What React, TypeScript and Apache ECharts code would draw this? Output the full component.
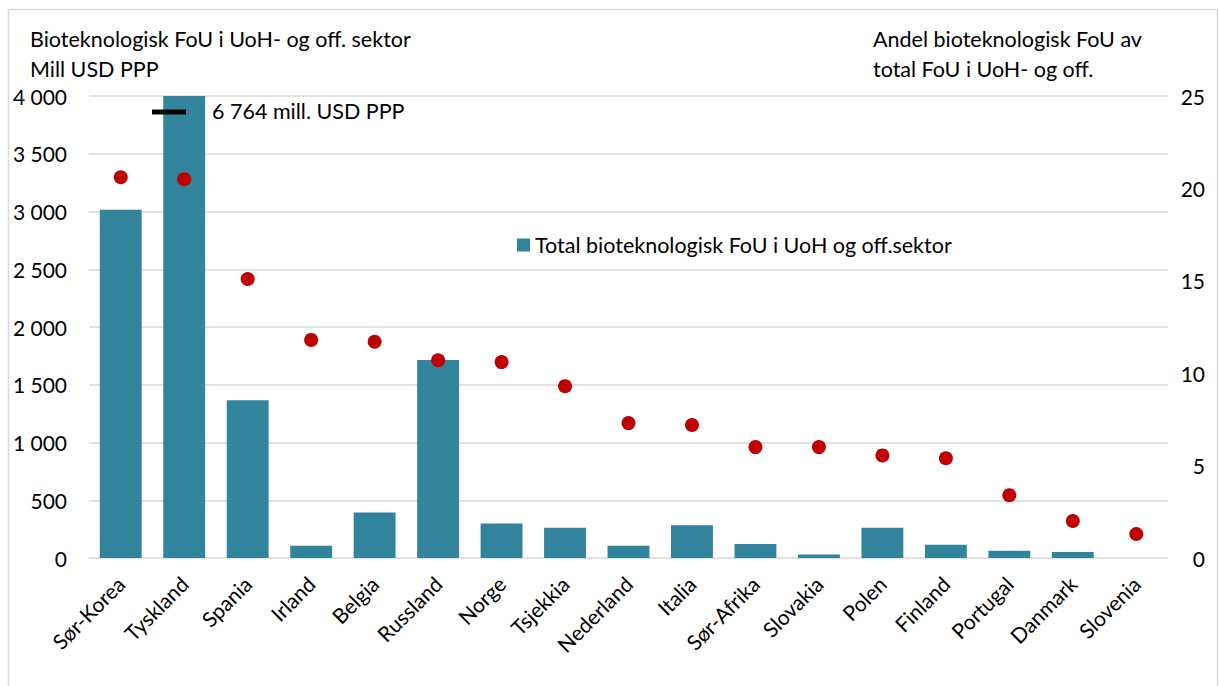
import React, { useEffect, useRef } from "react";
import * as echarts from "echarts";

const categories = ["Sør-Korea", "Tyskland", "Spania", "Irland", "Belgia", "Russland", "Norge", "Tsjekkia", "Nederland", "Italia", "Sør-Afrika", "Slovakia", "Polen", "Finland", "Portugal", "Danmark", "Slovenia"];
const totalBiotech = [3015, 6764, 1365, 105, 395, 1715, 298, 262, 106, 283, 122, 30, 262, 114, 62, 52, null];
const shareBiotech = [20.6, 20.5, 15.1, 11.8, 11.7, 10.7, 10.6, 9.3, 7.3, 7.2, 6.0, 6.0, 5.55, 5.4, 3.4, 2.0, 1.3];
const leftTicks = [0, 500, 1000, 1500, 2000, 2500, 3000, 3500, 4000];
const rightTicks = [0, 5, 10, 15, 20, 25];

const barName = "Total bioteknologisk FoU i UoH og off.sektor";
const leftTitle = "Bioteknologisk FoU i UoH- og off. sektor\nMill USD PPP";
const rightTitle = "Andel bioteknologisk FoU av\ntotal FoU i UoH- og off.";

const FONT = "Lato";
const fmtThousands = (v: number) => String(Math.round(v)).replace(/\B(?=(\d{3})+(?!\d))/g, " ");

export default function App() {
  const ref = useRef<HTMLDivElement>(null);
  useEffect(() => {
    if (!ref.current) return;
    const chart = echarts.init(ref.current, null, { renderer: "svg" });
    const breakVal = totalBiotech[1] as number;
    chart.setOption({
      animation: false,
      backgroundColor: "#ffffff",
      textStyle: { fontFamily: FONT },
      grid: { left: 89, right: 51, top: 96, bottom: 128, containLabel: false },
      legend: {
        data: [{ name: barName, icon: "rect" }],
        left: 512,
        top: 229,
        itemWidth: 13,
        itemHeight: 13,
        itemGap: 6,
        textStyle: { fontFamily: FONT, fontSize: 21.5, color: "#000" },
      },
      xAxis: {
        type: "category",
        data: categories,
        axisLine: { show: false },
        axisTick: { show: false },
        axisLabel: { rotate: 45, interval: 0, margin: 22, fontFamily: FONT, fontSize: 21, color: "#000" },
      },
      yAxis: [
        {
          type: "value",
          min: leftTicks[0],
          max: leftTicks[leftTicks.length - 1],
          interval: leftTicks[1] - leftTicks[0],
          axisLine: { show: false },
          axisTick: { show: false },
          splitLine: { lineStyle: { color: "#d9d9d9", width: 1.5 } },
          axisLabel: { margin: 22, fontFamily: FONT, fontSize: 21, color: "#000", formatter: (v: number) => fmtThousands(v) },
        },
        {
          type: "value",
          min: rightTicks[0],
          max: rightTicks[rightTicks.length - 1],
          interval: rightTicks[1] - rightTicks[0],
          axisLine: { show: false },
          axisTick: { show: false },
          splitLine: { show: false },
          axisLabel: { margin: 37, align: "right", fontFamily: FONT, fontSize: 21, color: "#000" },
        },
      ],
      series: [
        {
          name: barName,
          type: "bar",
          data: totalBiotech,
          yAxisIndex: 0,
          barWidth: "66%",
          clip: true,
          itemStyle: { color: "#31849B" },
        },
        {
          name: "Andel",
          type: "scatter",
          data: shareBiotech,
          yAxisIndex: 1,
          symbol: "circle",
          symbolSize: 14,
          itemStyle: { color: "#C00000", opacity: 1 },
        },
      ],
      graphic: [
        { type: "rect", shape: { x: 8.5, y: 9.5, width: 1209, height: 700 }, style: { fill: "none", stroke: "#d9d9d9", lineWidth: 1.5 }, silent: true },
        { type: "text", left: 30, top: 24, style: { text: leftTitle, fontFamily: FONT, fontSize: 21.5, lineHeight: 30, fill: "#000" } },
        { type: "text", left: 873, top: 24, style: { text: rightTitle, fontFamily: FONT, fontSize: 21.5, lineHeight: 30, fill: "#000" } },
        { type: "line", shape: { x1: 152, y1: 112, x2: 186, y2: 112 }, style: { stroke: "#000", lineWidth: 5 }, z: 10 },
        { type: "text", left: 212, top: 100, style: { text: fmtThousands(breakVal) + " mill. USD PPP", fontFamily: FONT, fontSize: 21.5, fill: "#000" }, z: 10 },
      ],
    });
    return () => chart.dispose();
  }, []);
  return <div ref={ref} style={{ position: "fixed", left: 0, top: 0, width: 1219, height: 686 }} />;
}
